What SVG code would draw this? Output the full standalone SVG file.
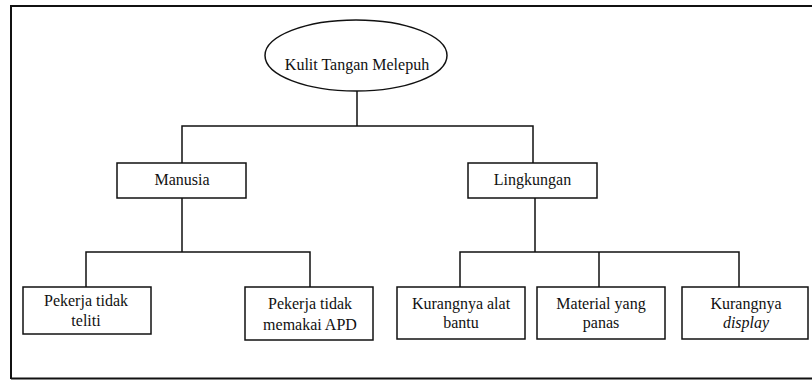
<svg xmlns="http://www.w3.org/2000/svg" width="812" height="381" viewBox="0 0 812 381">
<style>
.box{fill:#fff;stroke:#111;stroke-width:1.5}
.ln{fill:none;stroke:#111;stroke-width:1.5}
</style>
<rect width="812" height="381" fill="#fff"/>
<path d="M11 379 V6 H830 M11 378.5 H830" fill="none" stroke="#111" stroke-width="2"/>
<g id="connectors">
<path class="ln" d="M357 91 V126 M182 163 V126 H533 V163"/>
<path class="ln" d="M182 198 V252 M86 287 V252 H310 V287"/>
<path class="ln" d="M535 198 V252 M460 287 V252 H739 V287 M599 252 V287"/>
</g>
<g font-family="Liberation Serif, Times New Roman, Times, serif" font-size="16" fill="#111" text-anchor="middle">
<g id="root">
<ellipse class="box" cx="356" cy="55.5" rx="91" ry="35.5"/>
<text x="357" y="70">Kulit Tangan Melepuh</text>
</g>
<g id="manusia">
<rect class="box" x="117" y="163" width="129" height="35"/>
<text x="182" y="185">Manusia</text>
</g>
<g id="lingkungan">
<rect class="box" x="468" y="163" width="129" height="35"/>
<text x="532.5" y="185">Lingkungan</text>
</g>
<g id="teliti">
<rect class="box" x="23" y="287" width="128" height="47"/>
<text x="86" y="306">Pekerja tidak</text>
<text x="86" y="326">teliti</text>
</g>
<g id="apd">
<rect class="box" x="245" y="287" width="128" height="53"/>
<text x="310" y="309">Pekerja tidak</text>
<text x="310" y="330">memakai APD</text>
</g>
<g id="alat">
<rect class="box" x="397" y="287" width="128" height="52"/>
<text x="461" y="309">Kurangnya alat</text>
<text x="461" y="328">bantu</text>
</g>
<g id="material">
<rect class="box" x="537" y="287" width="128" height="52"/>
<text x="601" y="309">Material yang</text>
<text x="601" y="328">panas</text>
</g>
<g id="display">
<rect class="box" x="682" y="287" width="126" height="52"/>
<text x="746" y="309">Kurangnya</text>
<text x="746" y="328" font-style="italic">display</text>
</g>
</g>
</svg>
